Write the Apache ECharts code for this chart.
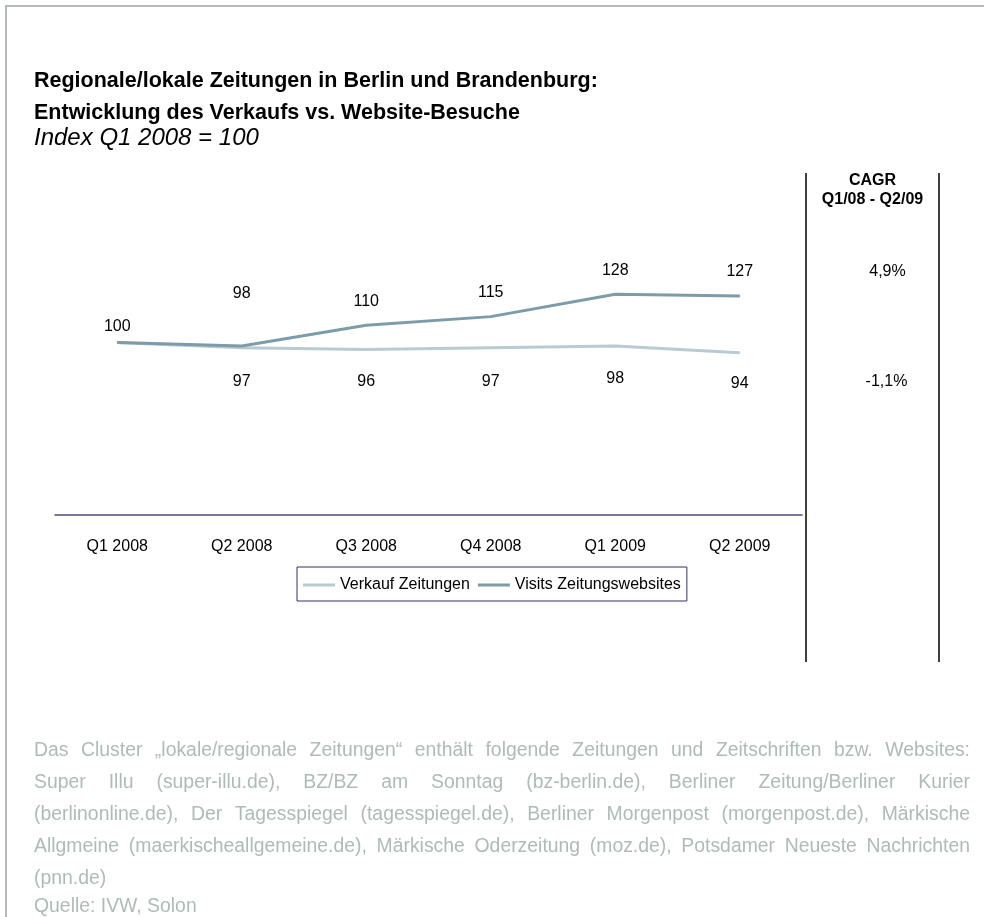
<!DOCTYPE html>
<html><head><meta charset="utf-8">
<script src="https://cdn.jsdelivr.net/npm/echarts@6/dist/echarts.min.js"></script>
<style>html,body{margin:0;padding:0;background:#fff}#c{width:984px;height:917px}</style>
</head><body><div id="c"></div>
<script>
// ---- data ----
const categories = ['Q1 2008', 'Q2 2008', 'Q3 2008', 'Q4 2008', 'Q1 2009', 'Q2 2009'];
const verkaufValues = [100, 97, 96, 97, 98, 94];
const visitsValues = [100, 98, 110, 115, 128, 127];
const seriesNames = ['Verkauf Zeitungen', 'Visits Zeitungswebsites'];
const cagrHeader = ['CAGR', 'Q1/08 - Q2/09'];
const cagrValues = ['4,9%', '-1,1%'];
const titleLines = ['Regionale/lokale Zeitungen in Berlin und Brandenburg:', 'Entwicklung des Verkaufs vs. Website-Besuche'];
const subtitleText = 'Index Q1 2008 = 100';
const footnoteLines = [
  'Das Cluster \u201Elokale/regionale Zeitungen\u201C enthält folgende Zeitungen und Zeitschriften bzw. Websites:',
  'Super Illu (super-illu.de), BZ/BZ am Sonntag (bz-berlin.de), Berliner Zeitung/Berliner Kurier',
  '(berlinonline.de), Der Tagesspiegel (tagesspiegel.de), Berliner Morgenpost (morgenpost.de), Märkische',
  'Allgmeine (maerkischeallgemeine.de), Märkische Oderzeitung (moz.de), Potsdamer Neueste Nachrichten',
  '(pnn.de)'
];
const sourceText = 'Quelle: IVW, Solon';

// ---- styling / layout ----
const FONT = '"Liberation Sans", Arial, sans-serif';
const COL_VISITS = '#7d9ca9';
const COL_VERKAUF = '#b8cbd3';
const COL_NOTE = '#aebbb7';
const visitsLabelGap = [7, 44, 15, 16, 15, 16];
const verkaufLabelGap = [null, 25, 24, 25, 24, 22];

const chart = echarts.init(document.getElementById('c'));

// footnote: justified text
const cv = document.createElement('canvas').getContext('2d');
const noteSize = 20;
const noteLeft = 34, noteRight = 970, noteTop = 750, noteLH = 32;
function fontStr(s) { return s + 'px ' + FONT; }
cv.font = fontStr(noteSize);
const natural = footnoteLines.slice(0, -1).map(l => cv.measureText(l).width);
const noteScale = Math.min(1, (noteRight - noteLeft - 2) / Math.max(...natural)) * 0.97;
const graphics = [];
function noteText(txt, x, y) {
  return { type: 'text', x: x, y: y, scaleX: noteScale, scaleY: 1,
    style: { text: txt, font: fontStr(noteSize), fill: COL_NOTE, verticalAlign: 'middle' } };
}
footnoteLines.forEach((line, i) => {
  const y = noteTop + i * noteLH;
  if (i === footnoteLines.length - 1) { graphics.push(noteText(line, noteLeft, y)); return; }
  const words = line.split(' ');
  const ws = words.map(w => cv.measureText(w).width * noteScale);
  const total = ws.reduce((a, b) => a + b, 0);
  const gap = (noteRight - noteLeft - total) / (words.length - 1);
  let x = noteLeft;
  words.forEach((w, k) => { graphics.push(noteText(w, x, y)); x += ws[k] + gap; });
});
graphics.push(noteText(sourceText, noteLeft, noteTop + footnoteLines.length * noteLH - 4));

// frame
graphics.push({ type: 'rect', shape: { x: 6, y: 6, width: 1100, height: 1100 }, style: { fill: 'none', stroke: '#b1bdb9', lineWidth: 2 } });
// titles
graphics.push({ type: 'text', x: 34, y: 81, style: { text: titleLines[0], font: 'bold 21.5px ' + FONT, fill: '#000', verticalAlign: 'middle' } });
graphics.push({ type: 'text', x: 34, y: 113, style: { text: titleLines[1], font: 'bold 21.5px ' + FONT, fill: '#000', verticalAlign: 'middle' } });
graphics.push({ type: 'text', x: 34, y: 138, style: { text: subtitleText, font: 'italic 24px ' + FONT, fill: '#000', verticalAlign: 'middle' } });
// CAGR column
const colL = 806, colR = 939, colMid = (colL + colR) / 2;
graphics.push({ type: 'line', shape: { x1: colL, y1: 173, x2: colL, y2: 662 }, style: { stroke: '#000', lineWidth: 1.5 } });
graphics.push({ type: 'line', shape: { x1: colR, y1: 173, x2: colR, y2: 662 }, style: { stroke: '#000', lineWidth: 1.5 } });
graphics.push({ type: 'text', x: colMid, y: 181, style: { text: cagrHeader[0], font: 'bold 16px ' + FONT, fill: '#000', align: 'center', verticalAlign: 'middle' } });
graphics.push({ type: 'text', x: colMid, y: 200, style: { text: cagrHeader[1], font: 'bold 16px ' + FONT, fill: '#000', align: 'center', verticalAlign: 'middle' } });
graphics.push({ type: 'text', x: colMid + 15, y: 272, style: { text: cagrValues[0], font: '16px ' + FONT, fill: '#000', align: 'center', verticalAlign: 'middle' } });
graphics.push({ type: 'text', x: colMid + 14, y: 382, style: { text: cagrValues[1], font: '16px ' + FONT, fill: '#000', align: 'center', verticalAlign: 'middle' } });

const labelBase = { show: true, color: '#000', fontSize: 16, fontFamily: FONT };

chart.setOption({
  animation: false,
  textStyle: { fontFamily: FONT },
  grid: { left: 55, top: 170, width: 747, height: 345, containLabel: false },
  xAxis: {
    type: 'category', data: categories, boundaryGap: true,
    axisLine: { lineStyle: { color: '#4b4b7d', width: 1.5 } },
    axisTick: { show: false },
    axisLabel: { color: '#000', fontSize: 16, fontFamily: FONT, margin: 24 },
    splitLine: { show: false }
  },
  yAxis: { type: 'value', min: 0, max: 200, show: false, splitLine: { show: false } },
  legend: {
    left: 297, top: 567, orient: 'horizontal',
    data: seriesNames.map(n => ({ name: n, icon: 'rect' })),
    itemWidth: 32, itemHeight: 3, itemGap: 8,
    padding: [10, 6, 8, 6],
    borderColor: '#333366', borderWidth: 1,
    textStyle: { color: '#000', fontSize: 16, fontFamily: FONT }
  },
  series: [
    {
      name: seriesNames[0], type: 'line', symbol: 'circle', symbolSize: 1, showSymbol: true,
      lineStyle: { color: COL_VERKAUF, width: 3 }, itemStyle: { color: COL_VERKAUF },
      z: 2,
      data: verkaufValues.map((v, i) => ({
        value: v,
        label: Object.assign({}, labelBase, verkaufLabelGap[i] == null ? { show: false } : { position: 'bottom', distance: verkaufLabelGap[i] })
      }))
    },
    {
      name: seriesNames[1], type: 'line', symbol: 'circle', symbolSize: 1, showSymbol: true,
      lineStyle: { color: COL_VISITS, width: 3 }, itemStyle: { color: COL_VISITS },
      z: 3,
      data: visitsValues.map((v, i) => ({
        value: v,
        label: Object.assign({}, labelBase, { position: 'top', distance: visitsLabelGap[i] })
      }))
    }
  ],
  graphic: graphics
});
</script>
</body></html>
